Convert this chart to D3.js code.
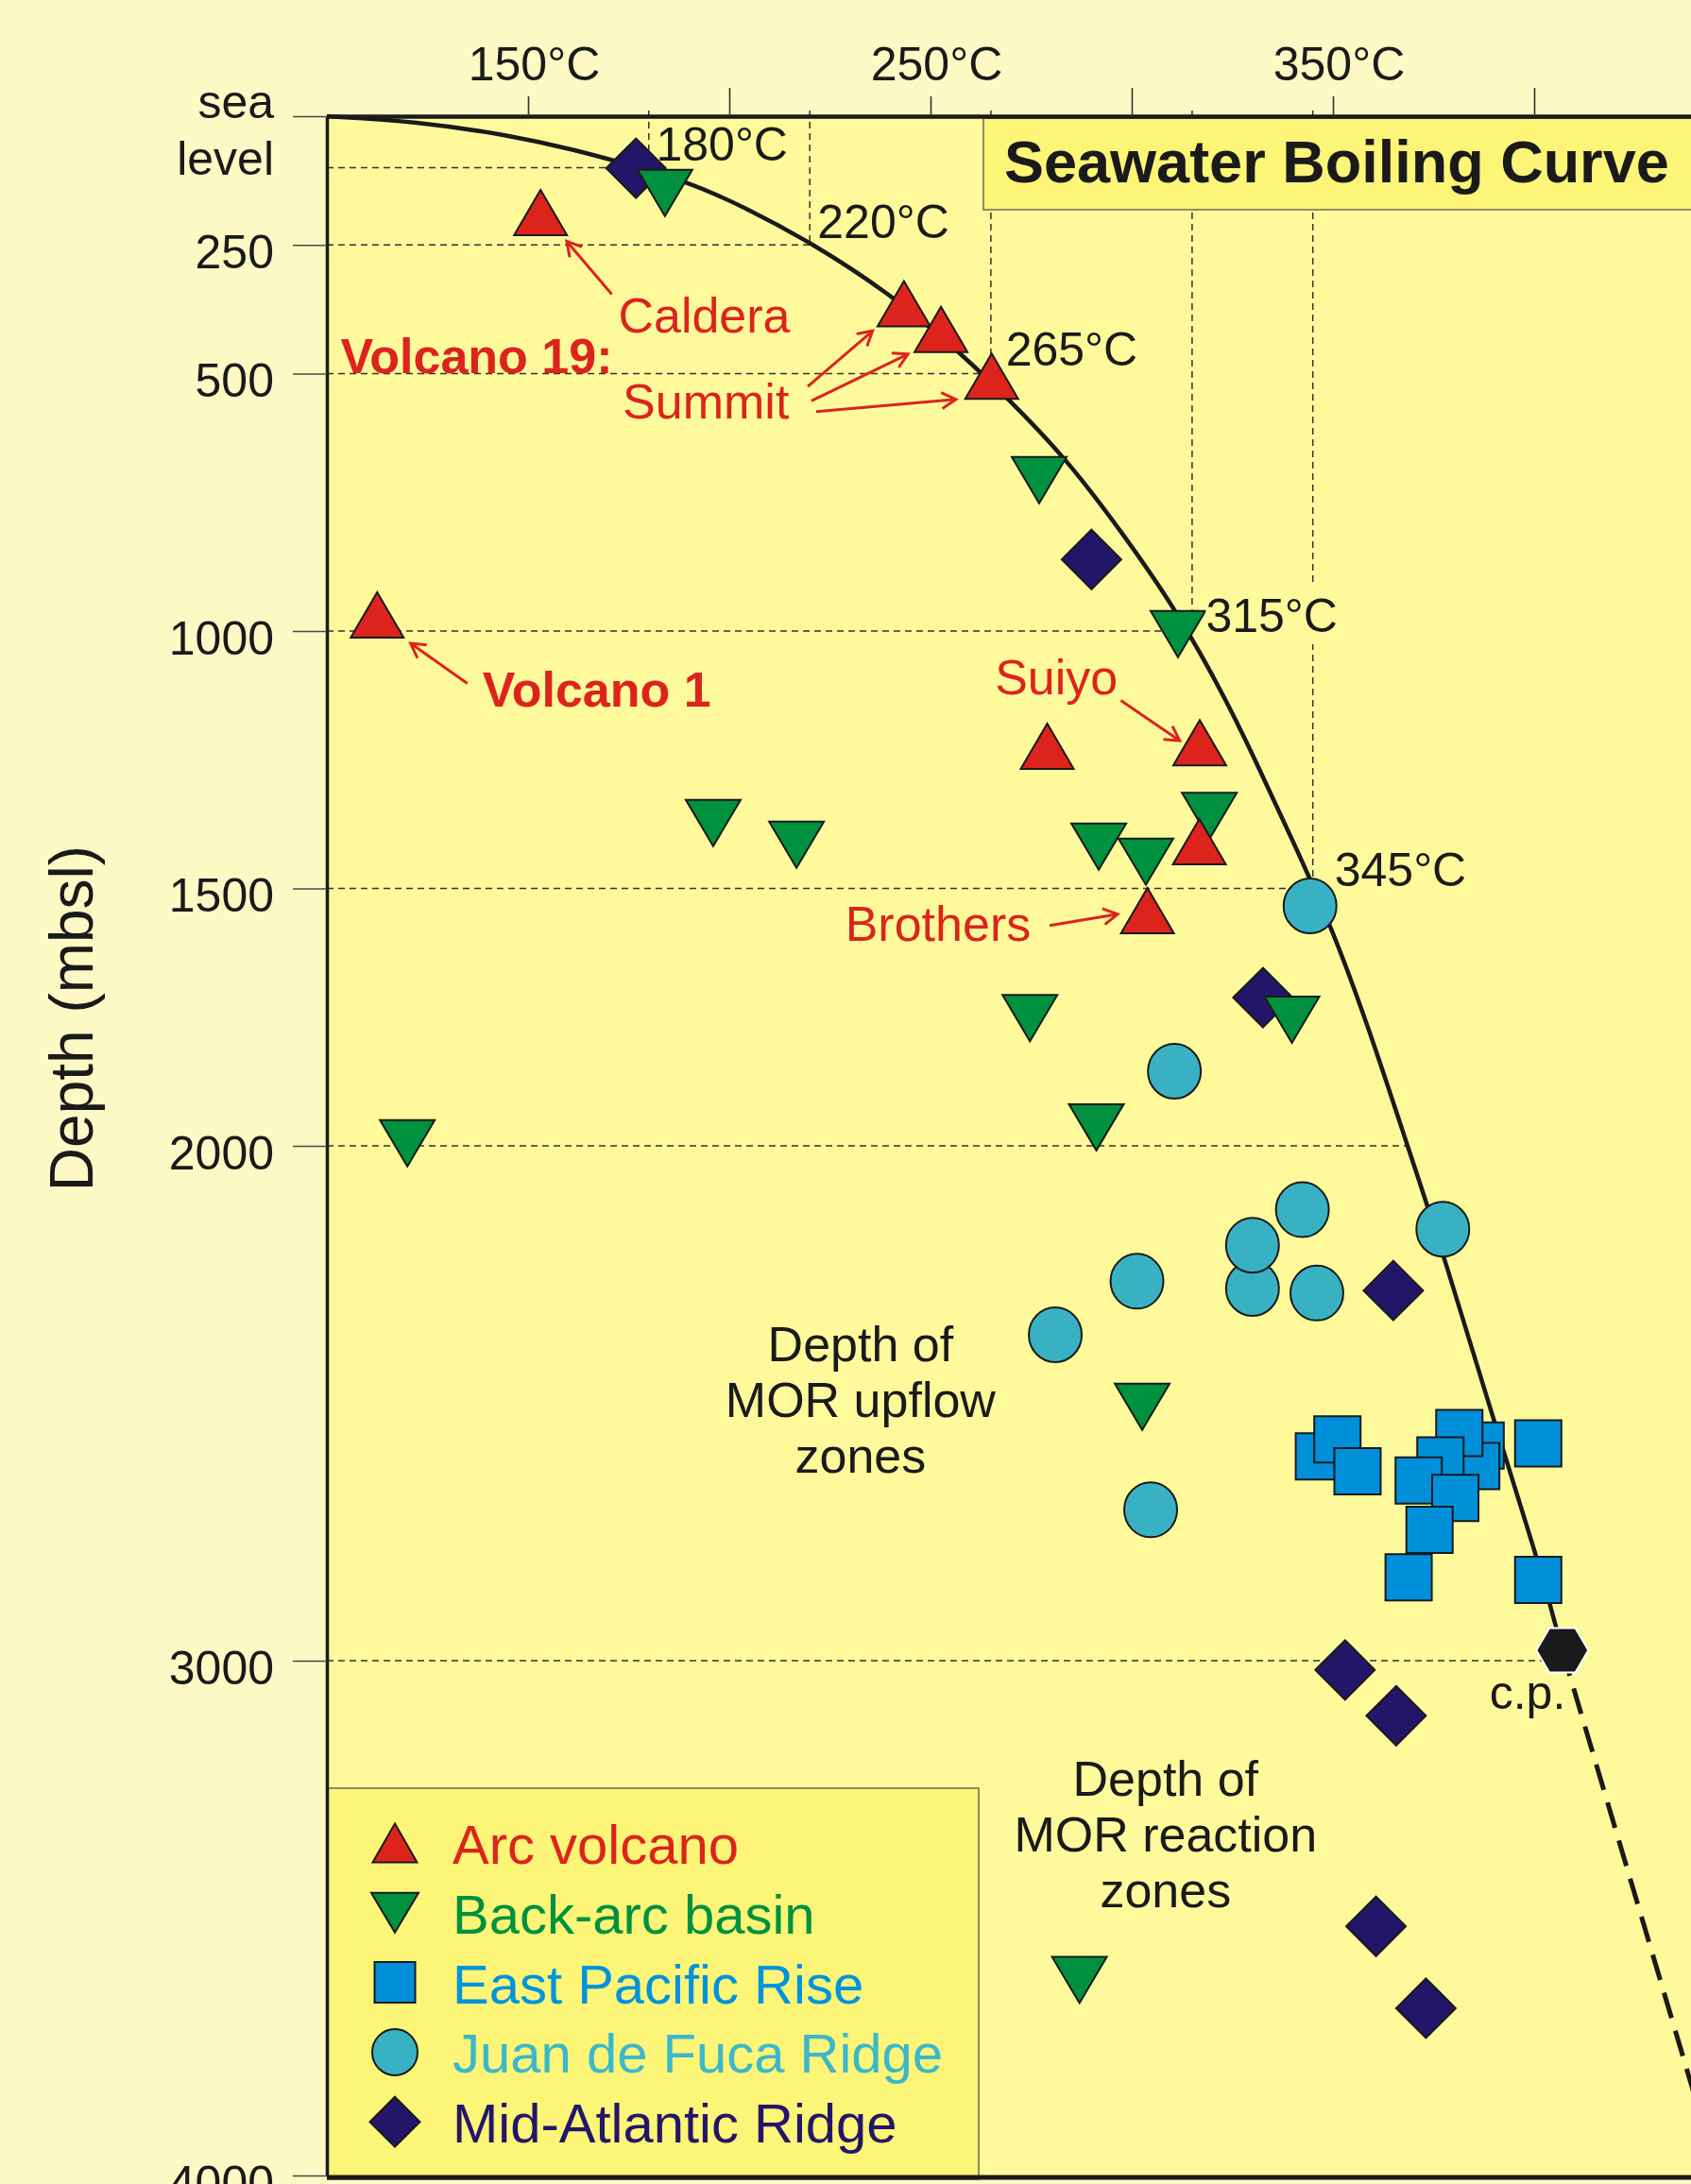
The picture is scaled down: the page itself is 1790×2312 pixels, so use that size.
<!DOCTYPE html>
<html>
<head>
<meta charset="utf-8">
<script src="https://cdn.jsdelivr.net/npm/d3@7"></script>
<style>
  html, body { margin: 0; padding: 0; background: #fcf9c5; }
  svg { display: block; font-family: 'Liberation Sans', Arial, Helvetica, sans-serif; }
</style>
</head>
<body>
<div id="chart"></div>
<script>
// boiling curve (temperature in C, depth in m)
const boilT = [100, 122.1, 145.5, 161.2, 172.9, 189.4, 204.2, 220.3, 239.7, 256.7, 269.2, 283.6, 297.3, 311, 323.9, 331.8, 339.6, 349.8, 359.2, 368.5, 377.9, 389.7, 400.6, 407]
const boilDepth = [0, 9.7, 37.2, 64.8, 89.4, 126.1, 178, 245.3, 343.1, 454.5, 547.7, 663.9, 805.3, 957.8, 1139, 1269.7, 1400, 1576.7, 1778, 1999.4, 2220.9, 2527.9, 2794.5, 2980]
const superT = [407, 438.8, 445.7]
const superDepth = [2980, 3817, 4000]
const cpT = [407]
const cpDepth = [2980]

// reference lines
const refT = [180, 220, 265, 315, 345]
const refDepth = [100, 250, 500, 1000, 1500]
const hLineT = [180, 220, 265, 315, 345, 369, 407]
const hLineDepth = [100, 250, 500, 1000, 1500, 2000, 3000]

// vent data
const arcT = [153.1, 243.4, 252.6, 265.2, 112.5, 279, 316.9, 316.8, 303.9]
const arcDepth = [187, 364, 414, 505, 969, 1224, 1217, 1409, 1543]

const backArcT = [184, 277, 311.5, 319.3, 291.8, 303.5, 196, 216.7, 274.7, 339.8, 120, 291.2, 302.6, 287]
const backArcDepth = [149, 707, 1006, 1359, 1419, 1448, 1373, 1415, 1752, 1755, 1995, 1964, 2507, 3620]

const eprT = [346.5, 351.1, 356.1, 386.7, 385.6, 381.4, 376.7, 371.3, 380.4, 374, 368.8, 401, 401]
const eprDepth = [2603, 2570, 2632, 2582, 2622, 2558, 2611, 2650, 2684, 2746, 2838, 2578, 2843]

const jdfT = [344.3, 310.6, 342.4, 330, 330, 346, 377.3, 301.3, 281, 304.7]
const jdfDepth = [1534, 1855, 2124, 2277, 2193, 2286, 2162, 2263, 2367, 2707]

const marT = [176.8, 290, 332.6, 365, 353, 365.7, 360.7, 373.1]
const marDepth = [101, 861, 1712, 2281, 3018, 3107, 3516, 3675]

// axes
const depthTicks = [0, 250, 500, 1000, 1500, 2000, 3000, 4000]
const tempTicks = [150, 200, 250, 300, 350, 400]
const tempTickLabels = ['150°C', '', '250°C', '', '350°C', '']

const legendLabels = ['Arc volcano', 'Back-arc basin', 'East Pacific Rise', 'Juan de Fuca Ridge', 'Mid-Atlantic Ridge']
const legendShapes = ['up', 'down', 'square', 'circle', 'diamond']

const red = '#dc241d'
const green = '#00913f'
const blue = '#0090da'
const cyan = '#38b2c3'
const navy = '#231669'
const legendFills = [red, green, blue, cyan, navy]
const legendColors = [red, green, '#0094dc', '#3bb8cb', navy]
const ink = '#1a1a1a'

const width = 1790
const height = 2312

const svg = d3
  .select('#chart')
  .append('svg')
  .attr('width', width)
  .attr('height', height)

const xPositionScale = d3.scaleLinear().domain([100, 440]).range([346, 1794.4])
const yPositionScale = d3.scaleLinear().domain([0, 4000]).range([123, 2303])

const x = xPositionScale
const y = yPositionScale

svg.append('rect')
  .attr('width', width)
  .attr('height', height)
  .attr('fill', '#fcf9c5')

svg.append('rect')
  .attr('x', x(100))
  .attr('y', y(0))
  .attr('width', width - x(100))
  .attr('height', y(4000) - y(0))
  .attr('fill', '#fefa9c')

// arrow head
svg.append('defs')
  .append('marker')
  .attr('id', 'arrow')
  .attr('markerUnits', 'userSpaceOnUse')
  .attr('viewBox', '-20 -12 24 24')
  .attr('markerWidth', 24)
  .attr('markerHeight', 24)
  .attr('refX', 0)
  .attr('refY', 0)
  .attr('orient', 'auto')
  .append('path')
  .attr('d', 'M-15,-8.5 L0,0 L-15,8.5')
  .attr('fill', 'none')
  .attr('stroke', red)
  .attr('stroke-width', 3)

// DASHED REFERENCE LINES
svg.selectAll('.h-ref')
  .data(d3.zip(hLineT, hLineDepth))
  .enter()
  .append('line')
  .attr('class', 'h-ref')
  .attr('x1', x(100))
  .attr('x2', d => x(d[0]))
  .attr('y1', d => y(d[1]))
  .attr('y2', d => y(d[1]))
  .attr('stroke', '#333')
  .attr('stroke-width', 1.5)
  .attr('stroke-dasharray', '7,5')

svg.selectAll('.v-ref')
  .data(d3.zip(refT, refDepth))
  .enter()
  .append('line')
  .attr('class', 'v-ref')
  .attr('x1', d => x(d[0]))
  .attr('x2', d => x(d[0]))
  .attr('y1', y(0) - 6)
  .attr('y2', d => y(d[1]))
  .attr('stroke', '#333')
  .attr('stroke-width', 1.5)
  .attr('stroke-dasharray', '7,5')

// BOILING CURVE
const line = d3.line()
  .x(d => x(d[0]))
  .y(d => y(d[1]))
  .curve(d3.curveBasis)

svg.append('path')
  .datum(d3.zip(boilT, boilDepth))
  .attr('d', line)
  .attr('fill', 'none')
  .attr('stroke', ink)
  .attr('stroke-width', 4.5)

svg.append('path')
  .datum(d3.zip(superT, superDepth))
  .attr('d', d3.line().x(d => x(d[0])).y(d => y(d[1])))
  .attr('fill', 'none')
  .attr('stroke', ink)
  .attr('stroke-width', 5)
  .attr('stroke-dasharray', '28,14')

// SYMBOLS
function shape(type, w, h) {
  const a = w / 2
  const b = h / 2
  if (type === 'up') return `M0,${-b}L${a},${b}L${-a},${b}Z`
  if (type === 'down') return `M0,${b}L${a},${-b}L${-a},${-b}Z`
  if (type === 'square') return `M${-a},${-b}H${a}V${b}H${-a}Z`
  if (type === 'diamond') return `M0,${-b}L${a},0L0,${b}L${-a},0Z`
  if (type === 'hex') return `M${-a},0L${-a / 2},${-b}L${a / 2},${-b}L${a},0L${a / 2},${b}L${-a / 2},${b}Z`
  // circle / ellipse
  return `M${-a},0A${a},${b} 0 1,0 ${a},0A${a},${b} 0 1,0 ${-a},0Z`
}

const sizes = {
  up: [56, 48],
  down: [58, 49],
  square: [49, 49],
  circle: [56, 58],
  diamond: [63, 63],
  hex: [55, 47]
}

function drawSeries(cls, temps, depths, type, fill, stroke) {
  svg.selectAll('.' + cls)
    .data(d3.zip(temps, depths))
    .enter()
    .append('path')
    .attr('class', cls)
    .attr('d', shape(type, sizes[type][0], sizes[type][1]))
    .attr('transform', d => `translate(${x(d[0])},${y(d[1])})`)
    .attr('fill', fill)
    .attr('stroke', stroke || ink)
    .attr('stroke-width', 2)
}

drawSeries('mar', marT, marDepth, 'diamond', navy)
drawSeries('backarc', backArcT, backArcDepth, 'down', green)
drawSeries('arc', arcT, arcDepth, 'up', red)
drawSeries('jdf', jdfT, jdfDepth, 'circle', cyan)
drawSeries('epr', eprT, eprDepth, 'square', blue)
drawSeries('cp', cpT, cpDepth, 'hex', ink, '#ffffff')

// TEMPERATURE LABELS ON THE CURVE
function label(text, t, d, opts) {
  opts = opts || {}
  return svg.append('text')
    .attr('x', x(t))
    .attr('y', y(d))
    .attr('font-size', opts.size || 50)
    .attr('font-weight', opts.bold ? 'bold' : null)
    .attr('fill', opts.color || ink)
    .attr('text-anchor', opts.anchor || 'start')
    .text(text)
}

label('180°C', 181.8, 86)
label('220°C', 221.9, 237)
label('265°C', 268.7, 484)
const l315 = label('315°C', 318.4, 1002)
const box315 = l315.node().getBBox()
svg.insert('rect', () => l315.node())
  .attr('x', box315.x)
  .attr('y', box315.y - 4)
  .attr('width', box315.width)
  .attr('height', box315.height + 6)
  .attr('fill', '#fefa9c')
label('345°C', 350.4, 1495)
label('c.p.', 388.9, 3093)

// RED ANNOTATIONS
label('Caldera', 172.4, 420, { size: 52, color: red })
label('Volcano 19:', 103.4, 499, { size: 52, color: red, bold: true })
label('Summit', 173.5, 588, { size: 52, color: red })
label('Volcano 1', 138.7, 1147, { size: 52, color: red, bold: true })
label('Suiyo', 266, 1123, { size: 52, color: red })
label('Brothers', 228.8, 1602, { size: 52, color: red })

function arrow(t1, d1, t2, d2) {
  svg.append('line')
    .attr('x1', x(t1))
    .attr('y1', y(d1))
    .attr('x2', x(t2))
    .attr('y2', y(d2))
    .attr('stroke', red)
    .attr('stroke-width', 3)
    .attr('marker-end', 'url(#arrow)')
}

arrow(170.8, 346, 159.6, 243)
arrow(219.5, 525, 235.6, 417)
arrow(220.4, 553, 244.4, 462)
arrow(221.6, 574, 256.3, 550)
arrow(134.9, 1102, 120.8, 1024)
arrow(297.3, 1135, 311.9, 1213)
arrow(279.6, 1572, 296.5, 1550)

// ZONE NOTES
function note(lines, t, d) {
  const txt = svg.append('text')
    .attr('x', x(t))
    .attr('y', y(d))
    .attr('font-size', 52)
    .attr('fill', ink)
    .attr('text-anchor', 'middle')
  lines.forEach((s, i) => {
    txt.append('tspan')
      .attr('x', x(t))
      .attr('dy', i === 0 ? 0 : 59)
      .text(s)
  })
}

note(['Depth of', 'MOR upflow', 'zones'], 232.6, 2419)
note(['Depth of', 'MOR reaction', 'zones'], 308.4, 3262)

// LEGEND
const legendLeft = x(100) + 1
const legendTop = 1893

svg.append('rect')
  .attr('x', legendLeft)
  .attr('y', legendTop)
  .attr('width', 689)
  .attr('height', y(4000) - legendTop + 4)
  .attr('fill', '#fcf577')
  .attr('stroke', '#6b6b50')
  .attr('stroke-width', 1.5)

const legendSizes = {
  up: [47, 41],
  down: [50, 42],
  square: [43, 43],
  circle: [48, 49],
  diamond: [53, 53]
}

const legend = svg.selectAll('.legend-item')
  .data(legendLabels)
  .enter()
  .append('g')
  .attr('class', 'legend-item')
  .attr('transform', (d, i) => `translate(${legendLeft}, ${1973 + i * 73.8})`)

legend.append('path')
  .attr('d', (d, i) => {
    const s = legendSizes[legendShapes[i]]
    return shape(legendShapes[i], s[0], s[1])
  })
  .attr('transform', 'translate(71, -22)')
  .attr('fill', (d, i) => legendFills[i])
  .attr('stroke', ink)
  .attr('stroke-width', 2)

legend.append('text')
  .attr('x', 132)
  .attr('y', 0)
  .attr('font-size', 58)
  .attr('fill', (d, i) => legendColors[i])
  .text(d => d)

// TITLE BOX
svg.append('rect')
  .attr('x', 1041)
  .attr('y', y(0) + 2)
  .attr('width', width - 1041 + 10)
  .attr('height', 97)
  .attr('fill', '#fcf577')
  .attr('stroke', '#6b6b50')
  .attr('stroke-width', 1.5)

svg.append('text')
  .attr('x', 1063)
  .attr('y', 193)
  .attr('font-size', 63)
  .attr('font-weight', 'bold')
  .attr('fill', ink)
  .text('Seawater Boiling Curve')

// AXES
const yAxis = d3.axisLeft(yPositionScale)
  .tickValues(depthTicks)
  .tickSizeInner(36)
  .tickSizeOuter(0)
  .tickPadding(20)
  .tickFormat(d => d === 0 ? '' : d)

const yAxisG = svg.append('g')
  .attr('class', 'axis y-axis')
  .attr('transform', `translate(${x(100)},0)`)
  .call(yAxis)
  .attr('font-size', 50)
  .attr('font-family', null)

yAxisG.select('.domain').attr('stroke', ink).attr('stroke-width', 3.5)
yAxisG.selectAll('.tick line').attr('stroke', '#4a4a4a').attr('stroke-width', 1.6)
yAxisG.selectAll('.tick text').attr('fill', ink).attr('dy', '0.48em')

const seaLabel = yAxisG.append('text')
  .attr('x', -56)
  .attr('y', y(0) + 2)
  .attr('fill', ink)
  .attr('text-anchor', 'end')
seaLabel.append('tspan').attr('x', -56).text('sea')
seaLabel.append('tspan').attr('x', -56).attr('dy', 60).text('level')

const xAxis = d3.axisTop(xPositionScale)
  .tickValues(tempTicks)
  .tickSizeInner(30)
  .tickSizeOuter(0)
  .tickPadding(8)
  .tickFormat((d, i) => tempTickLabels[i])

const xAxisG = svg.append('g')
  .attr('class', 'axis x-axis')
  .attr('transform', `translate(0,${y(0)})`)
  .call(xAxis)
  .attr('font-size', 50)
  .attr('font-family', null)

xAxisG.select('.domain').attr('stroke', ink).attr('stroke-width', 4.5)
xAxisG.selectAll('.tick line')
  .attr('stroke', '#333')
  .attr('stroke-width', 1.6)
  .attr('y2', (d, i) => tempTickLabels[i] ? -21 : -30)
xAxisG.selectAll('.tick text').attr('fill', ink).attr('dx', 6)

svg.append('line')
  .attr('x1', x(100))
  .attr('x2', width)
  .attr('y1', y(4000) + 2)
  .attr('y2', y(4000) + 2)
  .attr('stroke', ink)
  .attr('stroke-width', 5)

svg.append('text')
  .attr('transform', 'translate(98, 1078) rotate(-90)')
  .attr('text-anchor', 'middle')
  .attr('font-size', 64)
  .attr('fill', ink)
  .text('Depth (mbsl)')
</script>
</body>
</html>
